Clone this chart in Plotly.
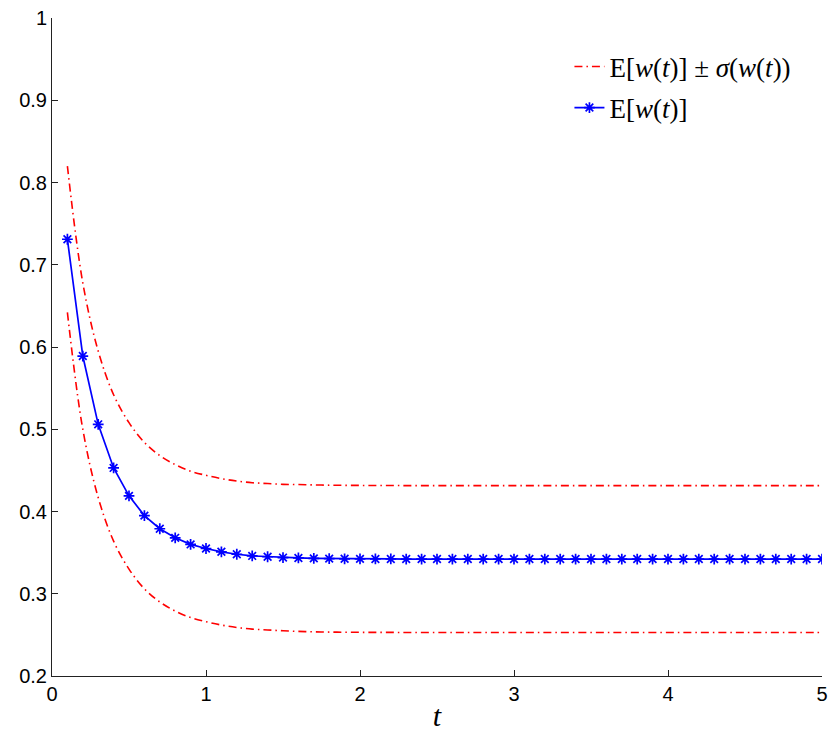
import plotly.graph_objects as go

t = [round(0.1 * i, 1) for i in range(1, 51)]

mean_w = [0.731, 0.589, 0.506, 0.453, 0.419, 0.395, 0.379, 0.368, 0.360, 0.355,
          0.351, 0.348, 0.346, 0.345, 0.344, 0.3435, 0.343, 0.3427, 0.3425, 0.3424,
          0.3423, 0.3423, 0.3422, 0.3422, 0.3422, 0.3422, 0.3422, 0.3422, 0.3422, 0.3422,
          0.3422, 0.3422, 0.3422, 0.3422, 0.3422, 0.3422, 0.3422, 0.3422, 0.3422, 0.3422,
          0.3422, 0.3422, 0.3422, 0.3422, 0.3422, 0.3422, 0.3422, 0.3422, 0.3422, 0.3422]

upper_w = [0.820, 0.678, 0.595, 0.542, 0.508, 0.484, 0.468, 0.457, 0.449, 0.444,
           0.440, 0.437, 0.435, 0.434, 0.433, 0.4328, 0.4323, 0.432, 0.4318, 0.4317,
           0.4316, 0.4316, 0.4315, 0.4315, 0.4315, 0.4315, 0.4315, 0.4315, 0.4315, 0.4315,
           0.4315, 0.4315, 0.4315, 0.4315, 0.4315, 0.4315, 0.4315, 0.4315, 0.4315, 0.4315,
           0.4315, 0.4315, 0.4315, 0.4315, 0.4315, 0.4315, 0.4315, 0.4315, 0.4315, 0.4315]

lower_w = [0.642, 0.500, 0.417, 0.364, 0.330, 0.306, 0.290, 0.279, 0.271, 0.266,
           0.262, 0.259, 0.257, 0.256, 0.255, 0.2542, 0.2537, 0.2534, 0.2532, 0.2531,
           0.2530, 0.2530, 0.2529, 0.2529, 0.2529, 0.2529, 0.2529, 0.2529, 0.2529, 0.2529,
           0.2529, 0.2529, 0.2529, 0.2529, 0.2529, 0.2529, 0.2529, 0.2529, 0.2529, 0.2529,
           0.2529, 0.2529, 0.2529, 0.2529, 0.2529, 0.2529, 0.2529, 0.2529, 0.2529, 0.2529]

x_ticks = [0, 1, 2, 3, 4, 5]
y_ticks = [0.2, 0.3, 0.4, 0.5, 0.6, 0.7, 0.8, 0.9, 1.0]
y_tick_text = ["0.2", "0.3", "0.4", "0.5", "0.6", "0.7", "0.8", "0.9", "1"]

band_label = "E[<i>w</i>(<i>t</i>)] ± <i>σ</i>(<i>w</i>(<i>t</i>))"
mean_label = "E[<i>w</i>(<i>t</i>)]"

red_dash = "8px,4px,1.5px,4px"

fig = go.Figure()
fig.add_trace(go.Scatter(x=t, y=upper_w, mode="lines", name=band_label,
                         line=dict(color="#ff0000", width=1.6, dash=red_dash, shape="spline"),
                         legend="legend"))
fig.add_trace(go.Scatter(x=t, y=lower_w, mode="lines", name=band_label, showlegend=False,
                         line=dict(color="#ff0000", width=1.6, dash=red_dash, shape="spline")))
fig.add_trace(go.Scatter(x=t, y=mean_w, mode="lines+markers", name=mean_label,
                         line=dict(color="#0000ff", width=1.7),
                         marker=dict(symbol="asterisk-open", size=9,
                                     line=dict(color="#0000ff", width=1.7)),
                         legend="legend2"))

FIG_W = 828
FIG_H = 736
PLOT_TOP = 18
PLOT_BOTTOM = 676
legend_common = dict(font=dict(family="Liberation Serif", size=27, color="black"),
                     bgcolor="rgba(0,0,0,0)", borderwidth=0,
                     xanchor="left", yanchor="middle", itemwidth=30)

fig.update_layout(
    width=FIG_W, height=FIG_H,
    margin=dict(l=52, r=6, t=PLOT_TOP, b=FIG_H - PLOT_BOTTOM),
    plot_bgcolor="white", paper_bgcolor="white",
    legend=dict(x=0.672, y=(PLOT_BOTTOM - 67) / (PLOT_BOTTOM - PLOT_TOP), **legend_common),
    legend2=dict(x=0.672, y=(PLOT_BOTTOM - 108) / (PLOT_BOTTOM - PLOT_TOP), **legend_common),
    xaxis=dict(range=[0, 5], tickvals=x_ticks, ticks="inside", ticklen=6,
               tickcolor="#222", showline=True, linecolor="#222", linewidth=1,
               showgrid=False, zeroline=False, mirror=False,
               tickfont=dict(family="Liberation Sans", size=20, color="black"),
               ticklabeloverflow="allow",
               title=dict(text="<i>t</i>", font=dict(family="Liberation Serif", size=30, color="black"),
                          standoff=0),
               automargin=False),
    yaxis=dict(range=[0.2, 1.0], tickvals=y_ticks, ticktext=y_tick_text, ticks="inside",
               ticklen=6, tickcolor="#222", showline=True, linecolor="#222", linewidth=1,
               showgrid=False, zeroline=False, mirror=False,
               tickfont=dict(family="Liberation Sans", size=20, color="black"),
               ticklabeloverflow="allow",
               automargin=False),
)

fig.write_html("out.html",
               config={"displayModeBar": False},
               post_script="document.body.style.margin='0';document.body.style.overflow='hidden';")
